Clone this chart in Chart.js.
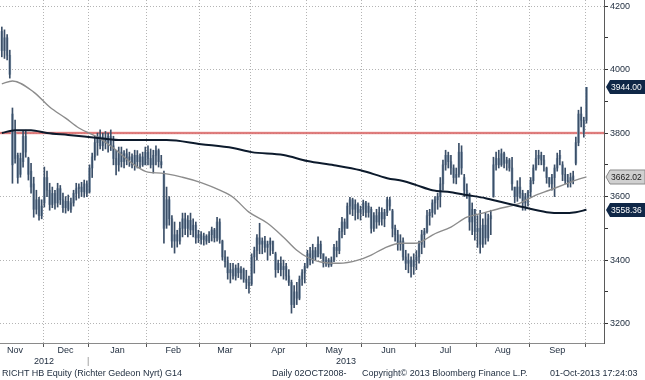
<!DOCTYPE html>
<html><head><meta charset="utf-8">
<script src="https://cdn.jsdelivr.net/npm/chart.js@4.4.0/dist/chart.umd.min.js"></script>
<style>
html,body{margin:0;padding:0;background:#fff;}
#wrap{position:relative;width:645px;height:380px;overflow:hidden;background:#fff;}
canvas{position:absolute;left:0;top:0;}
.ft{position:absolute;top:368px;font:9px "Liberation Sans",Arial,sans-serif;color:#1c2a3c;white-space:nowrap;line-height:10px;}
</style></head><body>
<div id="wrap"><canvas id="c" width="645" height="380"></canvas>
<div class="ft" style="left:2px">RICHT HB Equity (Richter Gedeon Nyrt) G14</div>
<div class="ft" style="left:272px">Daily 02OCT2008-</div>
<div class="ft" style="left:362px">Copyright© 2013 Bloomberg Finance L.P.</div>
<div class="ft" style="left:550px">01-Oct-2013 17:24:03</div>
</div>
<script>
// ---- data ----
const opens = [4120,4060,4100,4045,3860,3720,3730,3670,3710,3790,3720,3680,3640,3560,3590,3540,
3580,3660,3620,3575,3610,3580,3625,3590,3565,3585,3560,3580,3610,3625,3630,3615,3640,
3615,3690,3725,3770,3790,3760,3785,3770,3790,3760,3720,3700,3740,3710,3735,3715,3725,3700,3730,3710,3725,3700,
3740,3720,3700,3730,3745,3710,3670,3510,3590,3530,3460,3480,3460,3500,3530,3500,3525,3495,3510,3470,
3480,3465,3475,3460,3480,3495,3470,3520,3460,3410,3395,3360,3370,3350,3375,3360,3370,3340,3330,
3325,3410,3430,3470,3450,3460,3440,3450,3460,3420,3370,3390,3370,3380,3350,3330,3260,3300,3280,3340,3360,
3380,3420,3400,3430,3410,3450,3420,3390,3400,3385,3400,3440,3430,3490,3520,3500,3570,3590,3560,3575,3550,
3560,3580,3550,3560,3500,3540,3520,3550,3530,3550,3590,3555,3500,3480,3450,3460,3410,3390,3400,3380,
3400,3410,3450,3480,3490,3540,3550,3580,3590,3600,3640,3700,3730,3710,3690,3660,3670,3740,3660,3620,3605,3520,3560,
3490,3500,3450,3510,3470,3530,3600,3700,3720,3700,3735,3705,3715,3690,3630,3600,3630,3610,3580,3600,
3615,3650,3690,3720,3730,3715,3690,3660,3640,3660,3690,3720,3700,3670,3650,3645,3650,3705,3770,3860,3840,
3840];
const highs = [4134,4125,4110,4061,3879,3841,3737,3737,3809,3809,3724,3705,3661,3620,3598,3590,
3693,3680,3642,3630,3620,3642,3635,3611,3600,3605,3595,3620,3642,3640,3645,3652,3650,
3700,3737,3790,3800,3810,3800,3805,3800,3810,3790,3746,3756,3756,3745,3750,3740,3735,3746,3745,3735,3740,3756,
3760,3750,3746,3760,3750,3730,3680,3630,3600,3540,3520,3494,3520,3548,3548,3540,3548,3530,3520,3494,
3490,3485,3480,3490,3504,3500,3535,3530,3463,3430,3410,3390,3390,3385,3390,3380,3375,3368,3350,
3420,3441,3480,3516,3470,3475,3460,3470,3460,3425,3400,3410,3400,3390,3370,3337,3320,3330,3350,3370,3390,
3431,3440,3450,3440,3473,3460,3420,3410,3405,3410,3450,3460,3500,3535,3530,3580,3598,3595,3590,3580,3570,
3589,3585,3580,3567,3550,3560,3567,3565,3560,3598,3598,3560,3510,3494,3480,3470,3431,3420,3410,3420,
3430,3460,3494,3500,3557,3560,3590,3600,3611,3660,3715,3746,3740,3730,3700,3690,3768,3760,3670,3640,3611,3580,3560,
3540,3557,3530,3550,3545,3557,3724,3740,3746,3750,3740,3724,3720,3724,3630,3650,3660,3620,3610,3620,
3660,3700,3746,3746,3740,3730,3693,3660,3670,3700,3737,3746,3710,3690,3670,3674,3680,3787,3872,3882,3850,
3944];
const lows = [4040,4035,4030,3973,3642,3705,3642,3661,3693,3724,3652,3611,3535,3545,3526,3530,
3567,3600,3557,3565,3560,3567,3575,3550,3548,3555,3550,3570,3589,3595,3600,3598,3600,
3611,3660,3715,3730,3750,3745,3750,3740,3745,3700,3668,3680,3693,3690,3700,3695,3690,3683,3690,3690,3695,3700,
3700,3690,3674,3700,3693,3690,3453,3500,3510,3440,3422,3441,3450,3473,3480,3473,3480,3473,3453,3455,
3450,3447,3450,3455,3460,3457,3460,3453,3400,3378,3340,3328,3340,3337,3345,3340,3330,3310,3296,
3320,3359,3400,3420,3420,3425,3400,3415,3420,3346,3360,3350,3340,3337,3320,3233,3250,3260,3275,3320,3328,
3375,3385,3390,3400,3410,3405,3378,3380,3378,3380,3395,3410,3420,3470,3480,3500,3545,3540,3526,3530,3526,
3540,3535,3535,3485,3490,3500,3510,3510,3505,3540,3557,3473,3460,3431,3431,3400,3370,3360,3346,3355,
3370,3390,3420,3440,3485,3510,3535,3545,3560,3567,3620,3683,3690,3670,3642,3640,3661,3670,3600,3594,3494,3480,3463,
3440,3422,3440,3450,3460,3480,3598,3683,3690,3695,3690,3683,3680,3620,3580,3585,3595,3557,3557,3570,
3600,3640,3683,3700,3700,3680,3642,3630,3620,3600,3680,3700,3650,3640,3630,3630,3640,3700,3760,3819,3787,
3831];
const closes = [4060,4100,4045,3985,3700,3800,3660,3720,3790,3740,3670,3630,3560,3590,3540,3570,
3660,3620,3575,3610,3580,3625,3590,3565,3585,3560,3580,3610,3625,3630,3615,3640,3610,
3690,3725,3770,3790,3760,3785,3770,3790,3760,3720,3700,3740,3710,3735,3715,3725,3700,3730,3710,3725,3700,3740,
3720,3700,3730,3745,3710,3700,3500,3590,3530,3460,3480,3460,3500,3530,3500,3525,3495,3510,3470,3480,
3465,3475,3460,3480,3495,3470,3520,3465,3410,3395,3360,3370,3350,3375,3360,3370,3340,3330,3320,
3410,3430,3470,3450,3460,3440,3450,3460,3430,3370,3390,3370,3380,3350,3330,3260,3300,3280,3340,3360,3380,
3420,3400,3430,3410,3450,3420,3390,3400,3385,3400,3440,3430,3490,3520,3500,3570,3590,3560,3575,3550,3560,
3580,3550,3570,3500,3540,3520,3550,3530,3550,3590,3570,3500,3480,3450,3460,3410,3390,3400,3380,3400,
3410,3450,3480,3490,3540,3550,3580,3590,3600,3640,3700,3730,3710,3690,3660,3670,3740,3690,3620,3605,3520,3560,3490,
3500,3450,3510,3470,3530,3540,3700,3720,3700,3735,3705,3715,3690,3640,3600,3630,3610,3580,3600,3615,
3650,3690,3720,3730,3715,3700,3660,3640,3660,3690,3720,3730,3670,3650,3645,3660,3665,3770,3860,3840,3800,
3944];

// moving averages read at sampled trading-day positions
const maFastIdx = [0,4,12,18,24,29,36,42,49,55,60,68,75,82,87,93,100,106,111,115,120,127,134,139,144,150,156,159,162,169,175,181,188,194,200,206,212,216,220];
const maFastVal = [3955,3964,3929,3882,3847,3816,3787,3753,3705,3677,3674,3661,3644,3620,3598,3551,3516,3472,3431,3409,3394,3390,3400,3416,3438,3453,3453,3463,3479,3504,3535,3548,3564,3576,3601,3620,3639,3652,3662.02];
const maSlowIdx = [0,5,11,17,25,37,45,62,75,87,94,106,115,125,135,145,151,156,162,169,175,182,188,196,205,211,216,220];
const maSlowVal = [3800,3809,3809,3800,3794,3784,3778,3778,3765,3753,3740,3731,3712,3699,3683,3658,3649,3636,3620,3614,3605,3595,3583,3567,3551,3548,3551,3558.36];

const resistanceLevel = 3800;
const monthNames = ['Nov','Dec','Jan','Feb','Mar','Apr','May','Jun','Jul','Aug','Sep'];
const monthBounds = [-5.5,15.5,32.5,54.5,74.5,93.5,114.5,135.5,155.5,178.5,198.5,219.5];
const yearNames = ['2012','2013'];
const yearBreak = 32.5;
const yTickValues = [3200,3300,3400,3500,3600,3700,3800,3900,4000,4100,4200];

// ---- build ----
const X_MIN = -0.685, X_MAX = 226.6;
const FONT = "'Liberation Sans', Arial, sans-serif";
const TXT = '#1c2a3c';

const xTickDefs = [];
monthBounds.slice(1).forEach(b => xTickDefs.push({value:b, label: b === yearBreak ? ['', '|'] : '', kind:'bound'}));
monthNames.forEach((m,k) => xTickDefs.push({value:(monthBounds[k]+monthBounds[k+1])/2, label:m, kind:'month'}));
xTickDefs.push({value:(X_MIN+yearBreak)/2, label:['', yearNames[0]], kind:'year'});
xTickDefs.push({value:(yearBreak+X_MAX)/2, label:['', yearNames[1]], kind:'year'});
xTickDefs.sort((a,b)=>a.value-b.value);
const isBound = c => !!(xTickDefs[c.index] && xTickDefs[c.index].kind === 'bound');

const dayIdx = closes.map((_,i)=>i);
const wickData = dayIdx.map(i => ({x:i, y:[lows[i], highs[i]]}));
const bodyData = dayIdx.map(i => ({x:i, y:[Math.min(opens[i],closes[i]), Math.max(opens[i],closes[i])]}));

const resistancePlugin = {
  id:'resistance',
  beforeDatasetsDraw(chart){
    const {ctx, chartArea:a, scales:{y}} = chart;
    const py = Math.round(y.getPixelForValue(resistanceLevel));
    ctx.save();
    ctx.strokeStyle = 'rgba(236,170,170,0.55)'; ctx.lineWidth = 3;
    ctx.beginPath(); ctx.moveTo(a.left, py); ctx.lineTo(a.right, py); ctx.stroke();
    ctx.strokeStyle = '#d76262'; ctx.lineWidth = 1.5;
    ctx.beginPath(); ctx.moveTo(a.left, py); ctx.lineTo(a.right, py); ctx.stroke();
    ctx.restore();
  }
};

const axisLinePlugin = {
  id:'axisLines',
  afterDatasetsDraw(chart){
    const {ctx, chartArea:a} = chart;
    ctx.save();
    ctx.lineWidth = 1;
    ctx.strokeStyle = '#8a8a8a';
    ctx.beginPath(); ctx.moveTo(a.left, a.bottom + 0.5); ctx.lineTo(a.right, a.bottom + 0.5); ctx.stroke();
    ctx.strokeStyle = '#5a5a5a';
    ctx.beginPath(); ctx.moveTo(a.right + 0.5, a.top); ctx.lineTo(a.right + 0.5, a.bottom + 1); ctx.stroke();
    ctx.restore();
  }
};

const tagPlugin = {
  id:'tags',
  afterDraw(chart){
    const {ctx, chartArea:a, scales:{y}, width} = chart;
    const tags = [
      {v: maFastVal[maFastVal.length-1], bg:'#d0d0d0', fg:'#1a1a1a', bd:'#8a8a8a'},
      {v: maSlowVal[maSlowVal.length-1], bg:'#0f2747', fg:'#ffffff', bd:null},
      {v: closes[closes.length-1], bg:'#0f2747', fg:'#ffffff', bd:null}
    ];
    ctx.save();
    tags.forEach(t => {
      const py = Math.round(y.getPixelForValue(t.v));
      const x0 = a.right + 2;
      ctx.beginPath();
      ctx.moveTo(x0, py);
      ctx.lineTo(x0+4, py-7);
      ctx.lineTo(width, py-7);
      ctx.lineTo(width, py+7);
      ctx.lineTo(x0+4, py+7);
      ctx.closePath();
      ctx.fillStyle = t.bg; ctx.fill();
      if (t.bd){ ctx.strokeStyle = t.bd; ctx.lineWidth = 1; ctx.stroke(); }
      ctx.fillStyle = t.fg;
      ctx.font = "8.5px " + FONT;
      ctx.textBaseline = 'middle'; ctx.textAlign = 'left';
      ctx.fillText(t.v.toFixed(2), x0+5, py+0.5);
    });
    ctx.restore();
  }
};

new Chart(document.getElementById('c'), {
  type:'bar',
  data:{
    datasets:[
      {type:'line', label:'MA slow', data: maSlowIdx.map((x,k)=>({x, y:maSlowVal[k]})), borderColor:'#0c1a2c', borderWidth:2, pointRadius:0, cubicInterpolationMode:'monotone', order:0},
      {type:'line', label:'MA fast', data: maFastIdx.map((x,k)=>({x, y:maFastVal[k]})), borderColor:'#8c8c8c', borderWidth:1.4, pointRadius:0, cubicInterpolationMode:'monotone', order:1},
      {type:'bar', label:'range', data: wickData, backgroundColor:'#3b4f68', borderWidth:0, barThickness:1, grouped:false, order:2},
      {type:'bar', label:'body', data: bodyData, backgroundColor:'#9db0c3', borderWidth:0, barThickness:2, grouped:false, order:3}
    ]
  },
  options:{
    responsive:false, animation:false, devicePixelRatio:1,
    layout:{padding:0},
    plugins:{legend:{display:false}, tooltip:{enabled:false}},
    scales:{
      x:{
        type:'linear', min:X_MIN, max:X_MAX, offset:false, position:'bottom',
        afterBuildTicks: s => { s.ticks = xTickDefs.map(d => ({value:d.value})); },
        afterFit: s => { s.height = 37; s.paddingLeft = 0; s.paddingRight = 0; s.paddingTop = 0; s.paddingBottom = 0; },
        grid:{offset:false, drawTicks:true, tickLength:4,
          color: c => isBound(c) ? '#b4b4b4' : 'rgba(0,0,0,0)',
          tickColor: c => isBound(c) ? '#555' : 'rgba(0,0,0,0)'},
        border:{display:false, dash:[1,2]},
        ticks:{autoSkip:false, maxRotation:0, minRotation:0, padding:-2,
          font:{family:FONT, size:9, lineHeight:1.2},
          color: c => isBound(c) ? '#8a8a8a' : TXT,
          callback: (v, i) => xTickDefs[i] ? xTickDefs[i].label : ''}
      },
      y:{
        type:'linear', position:'right', min:3139, max:4219, beginAtZero:false,
        afterBuildTicks: s => { s.ticks = yTickValues.map(v => ({value:v})); },
        afterFit: s => { s.width = 41; s.paddingTop = 0; s.paddingBottom = 0; s.paddingLeft = 0; s.paddingRight = 0; },
        grid:{drawTicks:true, tickLength:4,
          color: c => (c.tick && c.tick.value % 200 === 0) ? '#b4b4b4' : 'rgba(0,0,0,0)',
          tickColor:'#333'},
        border:{display:false, dash:[1,2]},
        ticks:{padding:2, font:{family:FONT, size:9}, color:TXT,
          callback: v => (v % 200 === 0 ? String(v) : '')}
      }
    }
  },
  plugins:[resistancePlugin, axisLinePlugin, tagPlugin]
});
</script>
</body></html>
